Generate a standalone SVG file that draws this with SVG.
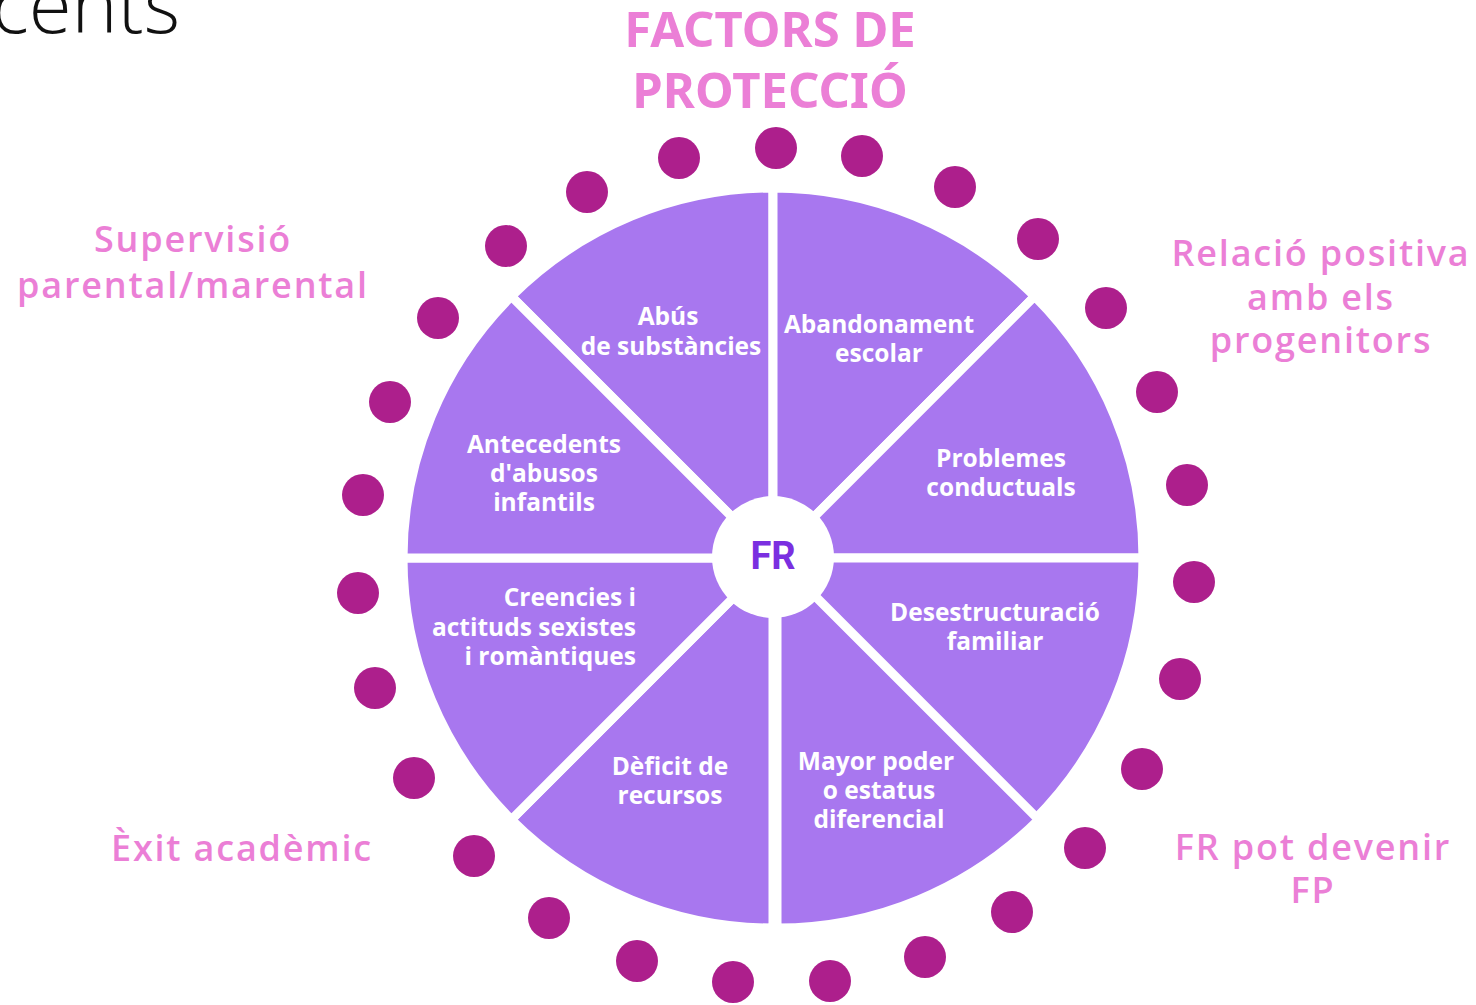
<svg xmlns="http://www.w3.org/2000/svg" width="1476" height="1005" viewBox="0 0 1476 1005">
<style>
.wedge{fill:#A877EF;stroke:#FFFFFF;stroke-width:9;stroke-linejoin:round}
.wt{font-family:"Open Sans","Liberation Sans",sans-serif;font-weight:700;font-size:24.5px;fill:#FFFFFF;text-anchor:middle}
.wt.end{text-anchor:end}
.pk{font-family:"Open Sans","Liberation Sans",sans-serif;font-weight:600;font-size:36px;letter-spacing:1.8px;fill:#EB7FD6;text-anchor:middle}
.ttl{font-family:"Noto Sans","Liberation Sans",sans-serif;font-weight:700;font-size:49px;fill:#EB7FD6;text-anchor:middle}
.dot{fill:#AD1F8C}
</style>
<rect width="1476" height="1005" fill="#FFFFFF"/>
<text x="180" y="33" font-family="'Open Sans','Liberation Sans',sans-serif" font-weight="300" font-size="78" fill="#111111" text-anchor="end">cents</text>
<g id="title">
<text class="ttl" x="770" y="47">FACTORS DE<tspan x="770" y="108">PROTECCIÓ</tspan></text>
</g>
<g id="dots">
<circle class="dot" cx="776" cy="148" r="21"/>
<circle class="dot" cx="862" cy="156" r="21"/>
<circle class="dot" cx="955" cy="187" r="21"/>
<circle class="dot" cx="1038" cy="239" r="21"/>
<circle class="dot" cx="1106" cy="308" r="21"/>
<circle class="dot" cx="1157" cy="392" r="21"/>
<circle class="dot" cx="1187" cy="485" r="21"/>
<circle class="dot" cx="1194" cy="582" r="21"/>
<circle class="dot" cx="1180" cy="679" r="21"/>
<circle class="dot" cx="1142" cy="769" r="21"/>
<circle class="dot" cx="1085" cy="848" r="21"/>
<circle class="dot" cx="1012" cy="912" r="21"/>
<circle class="dot" cx="925" cy="957" r="21"/>
<circle class="dot" cx="830" cy="981" r="21"/>
<circle class="dot" cx="733" cy="982" r="21"/>
<circle class="dot" cx="637" cy="961" r="21"/>
<circle class="dot" cx="549" cy="918" r="21"/>
<circle class="dot" cx="474" cy="856" r="21"/>
<circle class="dot" cx="414" cy="778" r="21"/>
<circle class="dot" cx="375" cy="688" r="21"/>
<circle class="dot" cx="358" cy="593" r="21"/>
<circle class="dot" cx="363" cy="495" r="21"/>
<circle class="dot" cx="390" cy="402" r="21"/>
<circle class="dot" cx="438" cy="318" r="21"/>
<circle class="dot" cx="506" cy="246" r="21"/>
<circle class="dot" cx="587" cy="192" r="21"/>
<circle class="dot" cx="679" cy="158" r="21"/>
</g>
<g id="w-abus">
<path class="wedge" d="M773 558 L511.4 296.4 A370 370 0 0 1 773 188 Z"/>
<text class="wt" x="668" y="325">Abús<tspan x="671" y="355">de substàncies</tspan></text>
</g>
<g id="w-abandonament">
<path class="wedge" d="M773 558 L773 188 A370 370 0 0 1 1034.6 296.4 Z"/>
<text class="wt" x="879" y="333">Abandonament<tspan x="879" y="362">escolar</tspan></text>
</g>
<g id="w-problemes">
<path class="wedge" d="M773 558 L1034.6 296.4 A370 370 0 0 1 1143 558 Z"/>
<text class="wt" x="1001" y="467">Problemes<tspan x="1001" y="496">conductuals</tspan></text>
</g>
<g id="w-desestructuracio">
<path class="wedge" d="M773 558 L1143 558 A370 370 0 0 1 1034.6 819.6 Z"/>
<text class="wt" x="995" y="621">Desestructuració<tspan x="995" y="650">familiar</tspan></text>
</g>
<g id="w-mayor">
<path class="wedge" d="M777 558 L1038.6 819.6 A370 370 0 0 1 777 928 Z"/>
<text class="wt" x="876" y="770">Mayor poder<tspan x="879" y="799">o estatus</tspan><tspan x="879" y="828">diferencial</tspan></text>
</g>
<g id="w-deficit">
<path class="wedge" d="M773 558 L773 928 A370 370 0 0 1 511.4 819.6 Z"/>
<text class="wt" x="670" y="775">Dèficit de<tspan x="670" y="804">recursos</tspan></text>
</g>
<g id="w-creencies">
<path class="wedge" d="M773 558 L511.4 819.6 A370 370 0 0 1 403 558 Z"/>
<text class="wt end" x="636" y="606">Creencies i<tspan x="636" y="636">actituds sexistes</tspan><tspan x="636" y="665">i romàntiques</tspan></text>
</g>
<g id="w-antecedents">
<path class="wedge" d="M773 558 L403 558 A370 370 0 0 1 511.4 296.4 Z"/>
<text class="wt" x="544" y="453">Antecedents<tspan x="544" y="482">d'abusos</tspan><tspan x="544" y="511">infantils</tspan></text>
</g>
<g id="center-fr">
<circle cx="773" cy="557" r="61" fill="#FFFFFF"/>
<text x="773" y="569" font-family="Roboto,'Liberation Sans',sans-serif" font-weight="700" font-size="38" fill="#7B2FE0" text-anchor="middle">FR</text>
</g>
<g id="l-supervisio">
<text class="pk" x="193" y="252">Supervisió<tspan x="193" y="298">parental/marental</tspan></text>
</g>
<g id="l-relacio">
<text class="pk" x="1321" y="266">Relació positiva<tspan x="1321" y="310">amb els</tspan><tspan x="1321" y="353">progenitors</tspan></text>
</g>
<g id="l-exit">
<text class="pk" x="242" y="861">Èxit acadèmic</text>
</g>
<g id="l-frfp">
<text class="pk" x="1313" y="860">FR pot devenir<tspan x="1313" y="903">FP</tspan></text>
</g>
</svg>
